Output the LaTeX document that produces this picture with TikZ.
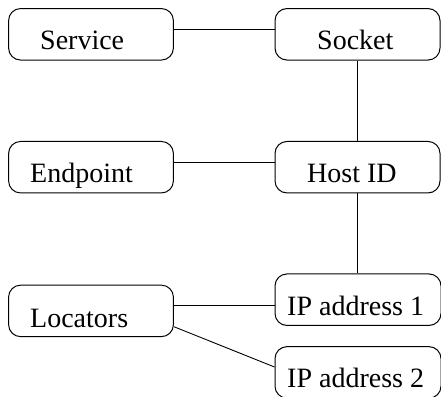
\documentclass[tikz,border=0pt]{standalone}
\usepackage{fontspec}
\setmainfont{Liberation Serif}
\begin{document}
\begin{tikzpicture}[x=1pt,y=-1pt,
  box/.style={draw, rounded corners=12pt, line width=1pt, inner sep=0pt,
    minimum width=#1, minimum height=51.5pt},
  box/.default=164.8pt,
  lbl/.style={anchor=base west, inner sep=0pt, font=\fontsize{28}{32}\selectfont},
  link/.style={line width=0.9pt}]
\useasboundingbox (0,0) rectangle (441,396);
\clip (0,0) rectangle (441,396);
% boxes
\node[box] (serv) at (91,34.3) {};
\node[box=165pt] (sock) at (357.5,34.3) {};
\node[box] (endp) at (91,167.2) {};
\node[box=165pt] (host) at (357.5,167.2) {};
\node[box] (loc) at (91,310.9) {};
\node[box=166pt] (ip1) at (358,299.7) {};
\node[box=166pt] (ip2) at (358,372.4) {};
% texts
\node[lbl] (servt) at (40,49) {Service};
\node[lbl] (sockt) at (317,49) {Socket};
\node[lbl] (endpt) at (30,182) {Endpoint};
\node[lbl] (hostt) at (307,182) {Host ID};
\node[lbl] (loct) at (30,327) {Locators};
\node[lbl] (ip1t) at (287,315) {IP address 1};
\node[lbl] (ip2t) at (287,387) {IP address 2};
% connectors
\draw[link] ([yshift=5pt]serv.east) -- ([yshift=5pt]serv.east -| sock.west);
\draw[link] (sock.south) -- (host.north);
\draw[link] ([yshift=5pt]endp.east) -- ([yshift=5pt]endp.east -| host.west);
\draw[link] (host.south) -- (host.south |- ip1.north);
\draw[link] ([yshift=5pt]loc.east) -- ([yshift=5pt]loc.east -| ip1.west);
\draw[link] ([yshift=-15.8pt]loc.east) -- ([yshift=5.4pt]ip2.west);
\end{tikzpicture}
\end{document}
